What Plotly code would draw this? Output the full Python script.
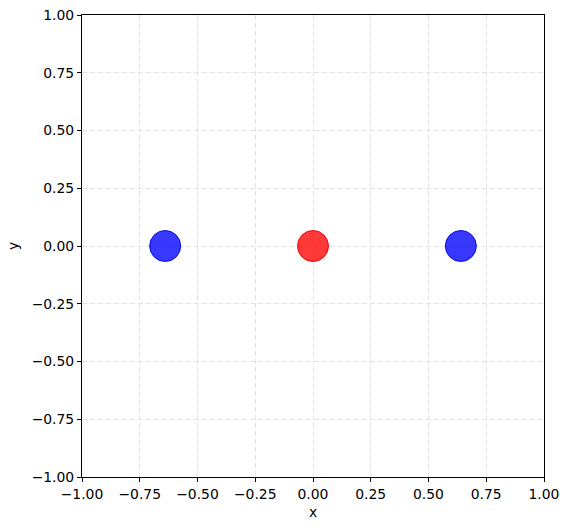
import plotly.graph_objects as go

xs_blue = [-0.64, 0.64]
ys_blue = [0.0, 0.0]
xs_red = [0.0]
ys_red = [0.0]
tick_vals = [-1.0, -0.75, -0.5, -0.25, 0.0, 0.25, 0.5, 0.75, 1.0]
tick_text = ["\u22121.00", "\u22120.75", "\u22120.50", "\u22120.25", "0.00", "0.25", "0.50", "0.75", "1.00"]

fig = go.Figure()
fig.add_trace(go.Scatter(x=xs_blue, y=ys_blue, mode="markers",
                         marker=dict(size=31, color="rgba(0,0,255,0.78)",
                                     line=dict(color="rgba(0,0,230,0.9)", width=1)),
                         showlegend=False))
fig.add_trace(go.Scatter(x=xs_red, y=ys_red, mode="markers",
                         marker=dict(size=31, color="rgba(255,0,0,0.78)",
                                     line=dict(color="rgba(230,0,0,0.9)", width=1)),
                         showlegend=False))

font = dict(family="DejaVu Sans", size=13.9, color="black")
axis_common = dict(range=[-1, 1], tickvals=tick_vals, ticktext=tick_text,
                   showline=True, linecolor="black", linewidth=1, mirror=True,
                   ticks="outside", ticklen=4, tickcolor="black",
                   showgrid=True, gridcolor="#e2e2e2", griddash="5px,3px", gridwidth=1,
                   zeroline=False, tickfont=font, automargin=False)

fig.update_layout(
    width=569, height=530,
    margin=dict(l=82, r=25, t=15, b=53, pad=0),
    plot_bgcolor="white", paper_bgcolor="white",
    xaxis=dict(**axis_common, title=dict(text="x", font=font, standoff=6)),
    yaxis=dict(**axis_common, title=dict(text="y", font=font, standoff=9)),
)
fig.write_html("out.html", config={"displayModeBar": False},
               post_script="document.body.style.margin='0';document.body.style.overflow='hidden';")
